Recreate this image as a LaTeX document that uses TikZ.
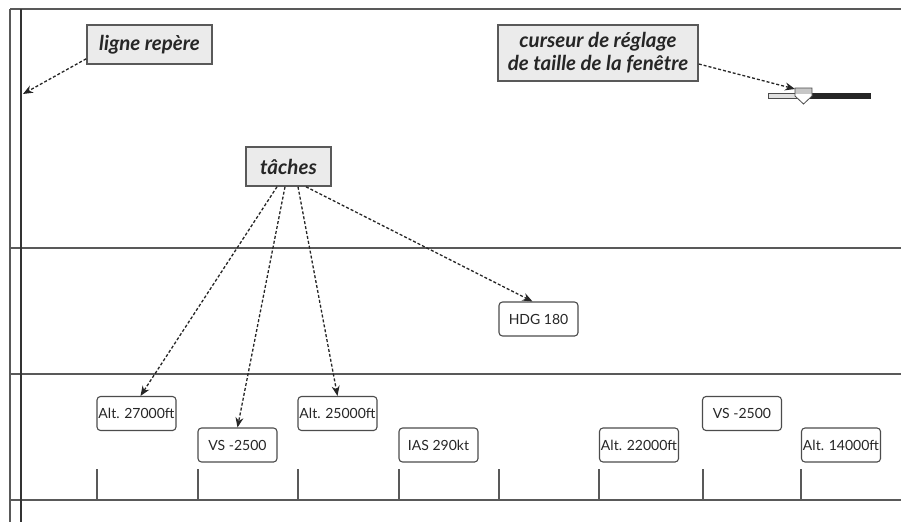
\documentclass[tikz,border=0pt]{standalone}
\usepackage{fontspec}
\setmainfont{Lato}
\usetikzlibrary{arrows.meta,calc}
\begin{document}
\begin{tikzpicture}[x=1pt,y=-1pt,
  notebox/.style={draw=black!65, line width=1.6pt, fill=black!8, font=\bfseries\itshape\fontsize{20.5}{23}\selectfont, inner sep=0pt, align=center, text=black!85},
  taskbox/.style={draw=black!70, line width=1.1pt, fill=white, rounded corners=3.5pt, minimum width=79pt, minimum height=34pt, inner sep=0pt, font=\fontsize{14}{16}\selectfont, text=black!85},
  callout/.style={-{Stealth[length=10pt,width=8pt]}, dash pattern=on 3pt off 2pt, line width=1.3pt, draw=black!85},
  frameline/.style={draw=black!65, line width=1.5pt}]
\useasboundingbox (0,0) rectangle (901,522);
\fill[white] (0,0) rectangle (901,522);
% frame
\draw[frameline] (10,9) -- (901,9);
\draw[frameline] (10,248) -- (901,248);
\draw[frameline] (10,374) -- (901,374);
\draw[frameline] (10,500) -- (901,500);
\draw[frameline] (10,9) -- (10,522);
\draw[line width=2.2pt, draw=black!80] (21,9) -- (21,522);
\foreach \x in {97,198,298,399,499,599,703,801}
  \draw[frameline, line width=1.3pt] (\x,469) -- (\x,500);
% slider
\draw[draw=black!70, fill=black!12, line width=0.8pt] (768,93) rectangle (800,98);
\fill[black!85] (806,92.5) rectangle (871,98.5);
\fill[white] (795,88) -- (812,88) -- (812,96) -- (803.5,104) -- (795,96) -- cycle;
\fill[black!22] (795,88) rectangle (812,94);
\draw[draw=black!70, line width=0.8pt] (795,88) -- (812,88) -- (812,96) -- (803.5,104) -- (795,96) -- cycle;
\coordinate (slider) at (795,89);
\coordinate (refline) at (23,94);
% notes
\node[notebox, minimum width=125pt, minimum height=39pt] (lig) at (149.5,44.5) {ligne repère};
\node[notebox, minimum width=85pt, minimum height=39pt] (tac) at (288.5,166.5) {tâches};
\node[notebox, minimum width=200pt, minimum height=56pt] (cur) at (598,53) {curseur de réglage\\de taille de la fenêtre};
% tasks
\node[taskbox] (a27) at (136.5,413.5) {Alt. 27000ft};
\node[taskbox] (vs1) at (237.5,445) {VS -2500};
\node[taskbox] (a25) at (337.5,413.5) {Alt. 25000ft};
\node[taskbox] (ias) at (438.5,445) {IAS 290kt};
\node[taskbox] (hdg) at (538.5,319) {HDG 180};
\node[taskbox] (a22) at (639,445) {Alt. 22000ft};
\node[taskbox] (vs2) at (742,413.5) {VS -2500};
\node[taskbox] (a14) at (841,445) {Alt. 14000ft};
% arrows
\draw[callout] ([yshift=6pt]lig.south west) -- (refline);
\draw[callout] ([yshift=-11pt]cur.east) -- (slider);
\draw[callout] ([xshift=-11.5pt]tac.south) -- ([xshift=4pt]a27.north);
\draw[callout] ([xshift=-3.5pt]tac.south) -- (vs1.north);
\draw[callout] ([xshift=9.5pt]tac.south) -- (a25.north);
\draw[callout] ([xshift=17.5pt]tac.south) -- ([xshift=-6pt]hdg.north);
\end{tikzpicture}
\end{document}
